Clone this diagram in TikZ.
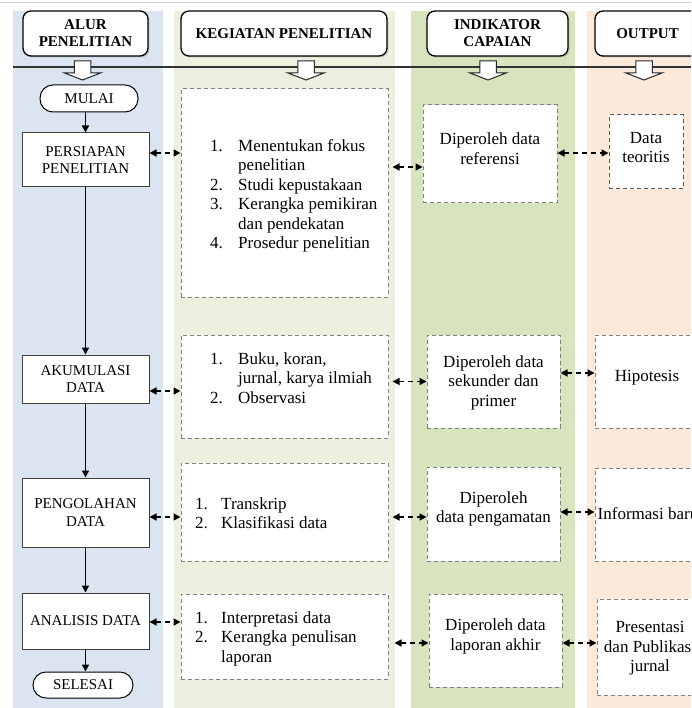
\documentclass[tikz,border=0pt]{standalone}
\usepackage{fontspec}
\setmainfont{Liberation Serif}
\usetikzlibrary{arrows.meta,shadows,calc}
\definecolor{colblue}{HTML}{DBE5F1}
\definecolor{colgreenl}{HTML}{EBF1DE}
\definecolor{colgreen}{HTML}{D7E4BD}
\definecolor{colpeach}{HTML}{FDE9D9}
\definecolor{dashgray}{HTML}{7F7F7F}
\begin{document}
\begin{tikzpicture}[x=1pt,y=-1pt,
  hdr/.style={draw=black, line width=1.3pt, rounded corners=8pt, fill=white,
    font=\fontsize{15}{17}\selectfont\bfseries, align=center, inner sep=0pt,
    drop shadow={shadow xshift=1.5pt, shadow yshift=-1.5pt, opacity=0.3}},
  flow/.style={draw=black!75, line width=1pt, fill=white,
    font=\fontsize{15}{17.5}\selectfont, align=center, inner sep=0pt, minimum width=127pt},
  term/.style={draw=black, line width=1pt, fill=white, rounded corners=13pt,
    font=\fontsize{15}{17}\selectfont, inner sep=0pt},
  dbox/.style={draw=dashgray, dash pattern=on 4pt off 3pt, line width=1pt, fill=white, inner sep=0pt},
  txt/.style={font=\fontsize{17}{19.5}\selectfont, align=center, inner sep=0pt},
  flowarr/.style={-{Triangle[length=7pt,width=7pt]}, line width=1.5pt},
  darr/.style={{Triangle[length=7pt,width=7pt]}-{Triangle[length=7pt,width=7pt]}, line width=1.4pt, dash pattern=on 5pt off 4pt},
  hollow/.style={draw=black!85, fill=white, line width=1pt},
]
\useasboundingbox (0,0) rectangle (691,708);
\clip (0,0) rectangle (691,708);
\fill[white] (0,0) rectangle (691,708);
\draw[gray!35, line width=1pt] (0,3) -- (691,3);

% columns
\fill[colblue] (13,11) rectangle (163,708);
\fill[colgreenl] (174,11) rectangle (395,708);
\fill[colgreen] (411,11) rectangle (575,708);
\fill[colpeach] (587,11) rectangle (691,708);

% headers
\node[hdr, minimum width=125pt, minimum height=45pt] (h1) at (85.5,33.5) {ALUR\\PENELITIAN};
\node[hdr, minimum width=206pt, minimum height=45pt] (h2) at (284,33.5) {KEGIATAN PENELITIAN};
\node[hdr, minimum width=141pt, minimum height=45pt] (h3) at (497.5,33.5) {INDIKATOR\\CAPAIAN};
\node[hdr, minimum width=105pt, minimum height=45pt] (h4) at (647.5,33.5) {OUTPUT};

% separator line
\draw[black!80, line width=1.2pt] (13,67) -- (691,67);

% hollow arrows
\foreach \c in {82.5,306,488,644}
  \draw[hollow] (\c-8.25,61) -- (\c+8.25,61) -- (\c+8.25,73) -- (\c+18,73)
     -- (\c,80) -- (\c-18,73) -- (\c-8.25,73) -- cycle;

% flow column
\node[term, minimum width=98pt, minimum height=27pt] (start) at (89,98.5) {MULAI};
\node[flow, minimum height=54pt] (p1) at (85.5,160) {PERSIAPAN\\PENELITIAN};
\node[flow, minimum height=48pt] (p2) at (85.5,379) {AKUMULASI\\DATA};
\node[flow, minimum height=69pt] (p3) at (85.5,512.5) {PENGOLAHAN\\DATA};
\node[flow, minimum height=56pt] (p4) at (85.5,621) {ANALISIS DATA};
\node[term, minimum width=100pt, minimum height=26pt] (end) at (83,685) {SELESAI};

\draw[flowarr] (start.south -| p1.north) -- (p1.north);
\draw[flowarr] (p1.south) -- (p2.north);
\draw[flowarr] (p2.south) -- (p3.north);
\draw[flowarr] (p3.south) -- (p4.north);
\draw[flowarr] (p4.south) -- (p4.south |- end.north);

% kegiatan boxes
\node[dbox, minimum width=207pt, minimum height=208pt] (k1) at (284.5,193) {};
\node[dbox, minimum width=207pt, minimum height=103pt] (k2) at (284.5,386.5) {};
\node[dbox, minimum width=207pt, minimum height=98pt] (k3) at (284.5,512) {};
\node[dbox, minimum width=207pt, minimum height=85pt] (k4) at (284.5,636.5) {};

\node[txt, anchor=west] (k1t) at (210,196) {\begin{tabular}{@{}p{28pt}@{}l@{}}1.&Menentukan fokus\\&penelitian\\2.&Studi kepustakaan\\3.&Kerangka pemikiran\\&dan pendekatan\\4.&Prosedur penelitian\end{tabular}};
\node[txt, anchor=west] (k2t) at (210,380) {\begin{tabular}{@{}p{28pt}@{}l@{}}1.&Buku, koran,\\&jurnal, karya ilmiah\\2.&Observasi\end{tabular}};
\node[txt, anchor=west] (k3t) at (195,515) {\begin{tabular}{@{}p{26pt}@{}l@{}}1.&Transkrip\\2.&Klasifikasi data\end{tabular}};
\node[txt, anchor=west] (k4t) at (195,639) {\begin{tabular}{@{}p{26pt}@{}l@{}}1.&Interpretasi data\\2.&Kerangka penulisan\\&laporan\end{tabular}};

% indikator boxes
\node[dbox, minimum width=134pt, minimum height=98pt] (i1) at (490,154) {};
\node[dbox, minimum width=133pt, minimum height=93pt] (i2) at (493.5,381.5) {};
\node[dbox, minimum width=133pt, minimum height=94pt] (i3) at (493.5,514) {};
\node[dbox, minimum width=133pt, minimum height=93pt] (i4) at (495.5,640.5) {};
\node[txt] (i1t) at (490,148.5) {Diperoleh data\\referensi};
\node[txt] (i2t) at (493.5,382.5) {Diperoleh data\\sekunder dan\\primer};
\node[txt] (i3t) at (493.5,509) {Diperoleh\\data pengamatan};
\node[txt] (i4t) at (495.5,636.5) {Diperoleh data\\laporan akhir};

% output boxes
\node[dbox, draw=black!65, minimum width=74pt, minimum height=74pt] (o1) at (646,152) {};
\node[dbox, minimum width=106pt, minimum height=93pt] (o2) at (648,381.5) {};
\node[dbox, minimum width=106pt, minimum height=93pt] (o3) at (648,514.5) {};
\node[dbox, minimum width=106pt, minimum height=96pt] (o4) at (650,647) {};
\node[txt] (o1t) at (646,147.5) {Data\\teoritis};
\node[txt] (o2t) at (647,377.5) {Hipotesis};
\node[txt] (o3t) at (648,513.5) {Informasi baru};
\node[txt] (o4t) at (650,648.5) {Presentasi\\dan Publikasi\\jurnal};

% connectors flow <-> kegiatan
\coordinate (a1) at ($(p1.east)+(0,-7)$);
\coordinate (a2) at ($(p2.east)+(0,12)$);
\coordinate (a3) at ($(p3.east)+(0,4.5)$);
\coordinate (a4) at ($(p4.east)+(0,1)$);
\draw[darr] (a1) -- (a1 -| k1.west);
\draw[darr] (a2) -- (a2 -| k2.west);
\draw[darr] (a3) -- (a3 -| k3.west);
\draw[darr] (a4) -- (a4 -| k4.west);

% kegiatan <-> indikator
\coordinate (b1) at ($(i1.west)+(0,13)$);
\coordinate (b2) at ($(i2.west)+(0,0)$);
\coordinate (b3) at ($(i3.west)+(0,3)$);
\coordinate (b4) at ($(i4.west)+(0,2.5)$);
\draw[darr, shorten <=4pt] (b1 -| k1.east) -- (b1);
\draw[darr, shorten <=4pt] (b2 -| k2.east) -- (b2);
\draw[darr, shorten <=4pt] (b3 -| k3.east) -- (b3);
\draw[darr, shorten <=6pt] (b4 -| k4.east) -- (b4);

% indikator <-> output
\coordinate (c1) at ($(i1.east)+(0,-1)$);
\coordinate (c2) at ($(i2.east)+(0,-8.5)$);
\coordinate (c3) at ($(i3.east)+(0,-2)$);
\coordinate (c4) at ($(i4.east)+(0,2.5)$);
\draw[darr] (c1) -- (c1 -| o1.west);
\draw[darr] (c2) -- (c2 -| o2.west);
\draw[darr] (c3) -- (c3 -| o3.west);
\draw[darr] (c4) -- (c4 -| o4.west);
\end{tikzpicture}
\end{document}
